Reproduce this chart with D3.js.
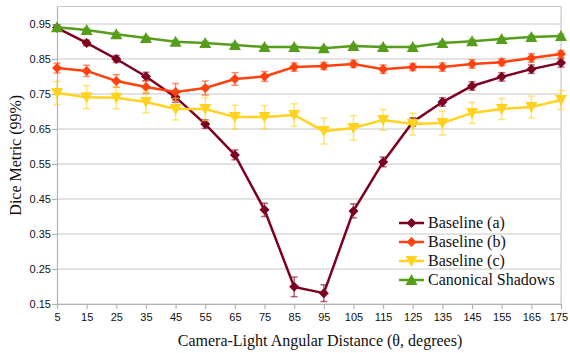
<!DOCTYPE html>
<html>
<head>
<meta charset="utf-8">
<script src="https://cdn.jsdelivr.net/npm/d3@7"></script>
<style>
  body { margin: 0; background: #fff; }
  svg { display: block; }
</style>
</head>
<body>
<div id="chart"></div>
<script>
// angles on the x axis
var angles = [5, 15, 25, 35, 45, 55, 65, 75, 85, 95, 105, 115, 125, 135, 145, 155, 165, 175];
var yTicks = [0.15, 0.25, 0.35, 0.45, 0.55, 0.65, 0.75, 0.85, 0.95];

var baselineA = [0.939, 0.896, 0.850, 0.800, 0.741, 0.664, 0.576, 0.419, 0.199, 0.181, 0.416, 0.556, 0.670, 0.727, 0.773, 0.799, 0.821, 0.839];
var baselineAErr = [0.008, 0.008, 0.010, 0.012, 0.015, 0.012, 0.014, 0.019, 0.028, 0.024, 0.020, 0.014, 0.012, 0.012, 0.012, 0.012, 0.012, 0.012];

var baselineB = [0.824, 0.816, 0.787, 0.770, 0.756, 0.767, 0.793, 0.800, 0.827, 0.830, 0.836, 0.821, 0.827, 0.827, 0.836, 0.841, 0.853, 0.864];
var baselineBErr = [0.014, 0.016, 0.018, 0.018, 0.024, 0.020, 0.018, 0.014, 0.012, 0.010, 0.010, 0.012, 0.010, 0.012, 0.012, 0.010, 0.012, 0.010];

var baselineC = [0.753, 0.741, 0.739, 0.727, 0.707, 0.707, 0.684, 0.684, 0.690, 0.644, 0.653, 0.676, 0.664, 0.667, 0.696, 0.707, 0.713, 0.733];
var baselineCErr = [0.033, 0.033, 0.031, 0.031, 0.031, 0.033, 0.034, 0.033, 0.032, 0.037, 0.035, 0.030, 0.031, 0.034, 0.030, 0.030, 0.031, 0.027];

var canonical = [0.941, 0.933, 0.921, 0.910, 0.899, 0.896, 0.890, 0.884, 0.884, 0.881, 0.887, 0.884, 0.884, 0.896, 0.901, 0.907, 0.913, 0.916];
var canonicalErr = [0.005, 0.005, 0.005, 0.005, 0.005, 0.005, 0.005, 0.005, 0.005, 0.005, 0.005, 0.005, 0.005, 0.005, 0.005, 0.005, 0.005, 0.005];

var seriesNames = ["Baseline (a)", "Baseline (b)", "Baseline (c)", "Canonical Shadows"];
var seriesColors = ["#7e0021", "#ff420e", "#ffd320", "#579d1c"];

var series = [
  { name: seriesNames[0], values: baselineA, err: baselineAErr, color: seriesColors[0], symbol: "diamond" },
  { name: seriesNames[1], values: baselineB, err: baselineBErr, color: seriesColors[1], symbol: "diamond" },
  { name: seriesNames[2], values: baselineC, err: baselineCErr, color: seriesColors[2], symbol: "down" },
  { name: seriesNames[3], values: canonical, err: canonicalErr, color: seriesColors[3], symbol: "up" }
];

var margin = { top: 6.5, right: 9, bottom: 49, left: 57 },
  totalW = 570, totalH = 353,
  width = totalW - margin.left - margin.right,
  height = totalH - margin.top - margin.bottom;

var x = d3.scaleLinear().domain([5, 175]).range([0, width]);
var y = d3.scaleLinear().domain([0.15, 1.0]).range([height, 0]);

var svg = d3.select("#chart").append("svg")
  .attr("width", totalW)
  .attr("height", totalH);

var g = svg.append("g")
  .attr("transform", "translate(" + margin.left + "," + margin.top + ")");

// gridlines
g.selectAll(".grid").data(yTicks.concat([1.0])).enter().append("line")
  .attr("x1", 0).attr("x2", width)
  .attr("y1", function (d) { return y(d); })
  .attr("y2", function (d) { return y(d); })
  .attr("stroke", "#c8c8c8").attr("stroke-width", 1.2);

// right frame
g.append("line")
  .attr("x1", width).attr("x2", width)
  .attr("y1", 0).attr("y2", height)
  .attr("stroke", "#c8c8c8").attr("stroke-width", 1.2);

// axes
var yAxis = g.append("g")
  .call(d3.axisLeft(y).tickValues(yTicks).tickFormat(d3.format(".2f")).tickSize(5).tickSizeOuter(0));
var xAxis = g.append("g")
  .attr("transform", "translate(0," + height + ")")
  .call(d3.axisBottom(x).tickValues(angles).tickSize(5).tickSizeOuter(0));

[xAxis, yAxis].forEach(function (ax) {
  ax.select(".domain").attr("stroke", "#b3b3b3").attr("stroke-width", 1.2);
  ax.selectAll(".tick line").attr("stroke", "#b3b3b3").attr("stroke-width", 1.2);
  ax.selectAll("text")
    .attr("fill", "#111")
    .style("font-family", "'Liberation Sans', Arial, sans-serif")
    .style("font-size", "11px");
});
yAxis.selectAll("text").attr("x", -6);
xAxis.selectAll("text").attr("y", 9);
// keep the last label inside the picture
xAxis.selectAll(".tick text").filter(function (d) { return d === 175; }).attr("dx", "-0.5em").attr("text-anchor", "middle").attr("x", 3);

// axis titles
svg.append("text")
  .attr("x", 320).attr("y", 346)
  .attr("text-anchor", "middle")
  .style("font-family", "'Liberation Serif', 'Times New Roman', serif")
  .style("font-size", "16px")
  .attr("fill", "#111")
  .text("Camera-Light Angular Distance (θ, degrees)");

svg.append("text")
  .attr("transform", "translate(21," + (margin.top + height / 2) + ") rotate(-90)")
  .attr("text-anchor", "middle")
  .style("font-family", "'Liberation Serif', 'Times New Roman', serif")
  .style("font-size", "16px")
  .attr("fill", "#111")
  .text("Dice Metric (99%)");

function symbolPath(kind) {
  if (kind === "diamond") return "M0,-5L5,0L0,5L-5,0Z";
  if (kind === "down") return "M-6,-5L6,-5L0,6Z";
  return "M-6,5L6,5L0,-6Z";
}

var line = d3.line()
  .x(function (d, i) { return x(angles[i]); })
  .y(function (d) { return y(d); });

series.forEach(function (s) {
  var sg = g.append("g");
  // error bars
  var eb = sg.selectAll(".err").data(s.values).enter().append("g")
    .attr("stroke", s.color).attr("stroke-opacity", 0.6).attr("stroke-width", 1.5);
  eb.append("line")
    .attr("x1", function (d, i) { return x(angles[i]); })
    .attr("x2", function (d, i) { return x(angles[i]); })
    .attr("y1", function (d, i) { return y(d - s.err[i]); })
    .attr("y2", function (d, i) { return y(d + s.err[i]); });
  eb.append("line")
    .attr("x1", function (d, i) { return x(angles[i]) - 3.5; })
    .attr("x2", function (d, i) { return x(angles[i]) + 3.5; })
    .attr("y1", function (d, i) { return y(d - s.err[i]); })
    .attr("y2", function (d, i) { return y(d - s.err[i]); });
  eb.append("line")
    .attr("x1", function (d, i) { return x(angles[i]) - 3.5; })
    .attr("x2", function (d, i) { return x(angles[i]) + 3.5; })
    .attr("y1", function (d, i) { return y(d + s.err[i]); })
    .attr("y2", function (d, i) { return y(d + s.err[i]); });

  sg.append("path")
    .datum(s.values)
    .attr("fill", "none")
    .attr("stroke", s.color)
    .attr("stroke-width", 2.5)
    .attr("d", line);

  sg.selectAll(".pt").data(s.values).enter().append("path")
    .attr("d", symbolPath(s.symbol))
    .attr("transform", function (d, i) { return "translate(" + x(angles[i]) + "," + y(d) + ")"; })
    .attr("fill", s.color);
});

// legend
var legend = svg.append("g").attr("transform", "translate(399,223)");
series.forEach(function (s, i) {
  var row = legend.append("g").attr("transform", "translate(0," + (i * 19) + ")");
  row.append("line").attr("x1", 0).attr("x2", 25).attr("y1", 0).attr("y2", 0)
    .attr("stroke", s.color).attr("stroke-width", 2.5);
  row.append("path").attr("d", symbolPath(s.symbol))
    .attr("transform", "translate(12.5,0)").attr("fill", s.color);
  row.append("text").attr("x", 29).attr("y", 5)
    .style("font-family", "'Liberation Serif', 'Times New Roman', serif")
    .style("font-size", "16px")
    .attr("fill", "#111")
    .text(s.name);
});
</script>
</body>
</html>
